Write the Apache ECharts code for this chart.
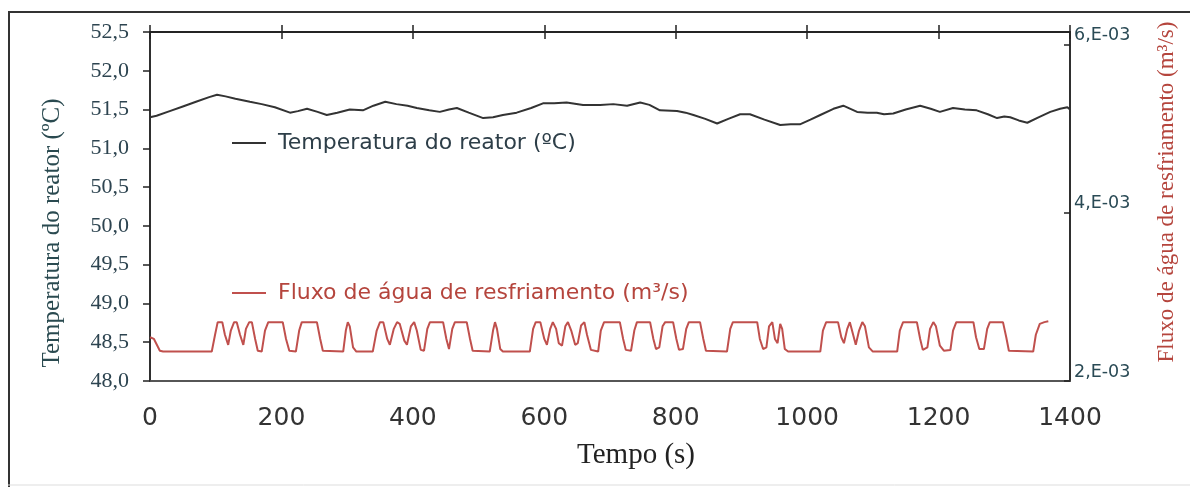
<!DOCTYPE html>
<html>
<head>
<meta charset="utf-8">
<script src="https://cdn.jsdelivr.net/npm/echarts@6/dist/echarts.min.js"></script>
<style>
  html, body { margin: 0; padding: 0; background: #fff; }
  #chart { width: 1190px; height: 487px; }
</style>
</head>
<body>
<div id="chart"></div>
<script>
// Temperatura do reator (ºC) vs tempo (s)
const tempTime = [0, 10, 30, 50, 70, 90, 102, 115, 130, 152, 170, 190, 213, 225, 239, 255, 269, 285, 304, 324,
    340, 358, 375, 392, 406, 425, 441, 455, 467, 485, 507, 522, 537, 558, 580, 598, 615, 634, 659, 685,
    705, 726, 746, 760, 776, 802, 815, 827, 845, 863, 880, 898, 913, 935, 959, 975, 989, 1005, 1020, 1040,
    1055, 1076, 1092, 1106, 1117, 1131, 1150, 1172, 1188, 1202, 1222, 1240, 1258, 1275, 1289, 1300, 1309, 1322, 1335, 1352,
    1370, 1385, 1396, 1400];
const tempValue = [51.40, 51.42, 51.48, 51.54, 51.60, 51.66, 51.69, 51.67, 51.64, 51.60, 51.57, 51.53, 51.46, 51.48, 51.51, 51.47, 51.43, 51.46, 51.50, 51.49,
    51.55, 51.60, 51.57, 51.55, 51.52, 51.49, 51.47, 51.50, 51.52, 51.46, 51.39, 51.40, 51.43, 51.46, 51.52, 51.58, 51.58, 51.59, 51.56, 51.56,
    51.57, 51.55, 51.59, 51.56, 51.49, 51.48, 51.46, 51.43, 51.38, 51.32, 51.38, 51.44, 51.44, 51.37, 51.30, 51.31, 51.31, 51.37, 51.43, 51.51,
    51.55, 51.47, 51.46, 51.46, 51.44, 51.45, 51.50, 51.55, 51.51, 51.47, 51.52, 51.50, 51.49, 51.44, 51.39, 51.41, 51.40, 51.36, 51.33, 51.40,
    51.47, 51.51, 51.53, 51.50];

// Fluxo de água de resfriamento, em unidades de 1E-03 m³/s
const flowTime = [0, 6, 15, 20, 94, 99, 103, 110, 114, 119, 123, 128, 132, 137, 142, 146, 151, 155, 160, 164,
    170, 175, 180, 202, 207, 212, 222, 227, 231, 254, 259, 263, 294, 298, 301, 304, 309, 314, 339, 345,
    350, 355, 361, 365, 371, 376, 380, 387, 391, 397, 402, 406, 412, 417, 422, 426, 446, 451, 455, 460,
    464, 482, 487, 491, 517, 522, 525, 528, 533, 537, 578, 583, 587, 594, 600, 604, 609, 613, 618, 622,
    627, 632, 636, 641, 647, 651, 656, 661, 665, 671, 682, 686, 691, 715, 720, 724, 732, 737, 741, 761,
    766, 770, 775, 780, 784, 796, 801, 805, 811, 816, 820, 837, 842, 846, 878, 883, 887, 924, 928, 933,
    938, 942, 947, 951, 955, 959, 962, 966, 971, 1020, 1024, 1029, 1047, 1052, 1056, 1061, 1065, 1070, 1074, 1079,
    1084, 1088, 1094, 1100, 1137, 1141, 1146, 1167, 1172, 1176, 1183, 1187, 1192, 1196, 1202, 1208, 1218, 1222, 1227, 1253,
    1257, 1262, 1269, 1274, 1278, 1298, 1303, 1307, 1344, 1348, 1354, 1361, 1367];
const flowValue = [2.52, 2.50, 2.36, 2.35, 2.35, 2.55, 2.70, 2.70, 2.55, 2.43, 2.60, 2.70, 2.70, 2.55, 2.43, 2.62, 2.70, 2.70, 2.50, 2.36,
    2.35, 2.60, 2.70, 2.70, 2.50, 2.36, 2.35, 2.60, 2.70, 2.70, 2.50, 2.36, 2.35, 2.60, 2.70, 2.65, 2.40, 2.35, 2.35, 2.60,
    2.70, 2.70, 2.50, 2.43, 2.62, 2.70, 2.68, 2.48, 2.43, 2.65, 2.70, 2.60, 2.37, 2.36, 2.62, 2.70, 2.70, 2.50, 2.38, 2.62,
    2.70, 2.70, 2.50, 2.36, 2.35, 2.60, 2.70, 2.62, 2.38, 2.35, 2.35, 2.62, 2.70, 2.70, 2.50, 2.43, 2.62, 2.70, 2.62, 2.45,
    2.42, 2.65, 2.70, 2.60, 2.43, 2.45, 2.66, 2.70, 2.55, 2.37, 2.35, 2.60, 2.70, 2.70, 2.50, 2.37, 2.36, 2.60, 2.70, 2.70,
    2.50, 2.38, 2.40, 2.65, 2.70, 2.70, 2.50, 2.37, 2.38, 2.62, 2.70, 2.70, 2.50, 2.36, 2.35, 2.62, 2.70, 2.70, 2.50, 2.38,
    2.40, 2.65, 2.70, 2.50, 2.45, 2.68, 2.62, 2.38, 2.35, 2.35, 2.60, 2.70, 2.70, 2.52, 2.45, 2.62, 2.70, 2.55, 2.43, 2.60,
    2.70, 2.65, 2.40, 2.35, 2.35, 2.60, 2.70, 2.70, 2.50, 2.37, 2.40, 2.62, 2.70, 2.65, 2.42, 2.36, 2.37, 2.60, 2.70, 2.70,
    2.52, 2.38, 2.38, 2.62, 2.70, 2.70, 2.52, 2.36, 2.35, 2.55, 2.68, 2.70, 2.71];

const xTicks = [0, 200, 400, 600, 800, 1000, 1200, 1400];

const serif = '"Liberation Serif", "DejaVu Serif", serif';
const sans = '"DejaVu Sans", "Liberation Sans", sans-serif';

const chart = echarts.init(document.getElementById('chart'));

const topAxisBase = {
    type: 'value',
    position: 'top',
    min: xTicks[0],
    max: xTicks[xTicks.length - 1],
    interval: 200,
    axisLine: { show: true, onZero: false, lineStyle: { color: '#222', width: 1.5 } },
    axisLabel: { show: false },
    splitLine: { show: false }
};

chart.setOption({
    animation: false,
    backgroundColor: '#fff',
    // borda da área do gráfico (garante a linha do eixo direito)
    grid: { left: 150, right: 120, top: 32, bottom: 106, show: true, borderColor: '#222', borderWidth: 1.5, backgroundColor: 'transparent' },
    legend: [
        {
            data: ['Temperatura do reator (ºC)'],
            left: 227, top: 127,
            icon: 'rect', itemWidth: 34, itemHeight: 2,
            textStyle: { fontFamily: sans, fontSize: 22, color: '#2d3e48', padding: [0, 0, 0, 7] }
        },
        {
            data: ['Fluxo de água de resfriamento (m³/s)'],
            left: 227, top: 277,
            icon: 'rect', itemWidth: 34, itemHeight: 2,
            textStyle: { fontFamily: sans, fontSize: 22, color: '#b5453d', padding: [0, 0, 0, 7] }
        }
    ],
    xAxis: [
        {
            type: 'value',
            position: 'bottom',
            min: xTicks[0],
            max: xTicks[xTicks.length - 1],
            interval: 200,
            axisLine: { show: true, onZero: false, lineStyle: { color: '#555', width: 1.5 } },
            axisTick: { show: false },
            splitLine: { show: false },
            axisLabel: {
                margin: 25, fontFamily: sans, fontSize: 25, color: '#333',
                formatter: v => String(v)
            }
        },
        Object.assign({}, topAxisBase, { axisTick: { show: true, inside: true, length: 7, lineStyle: { color: '#222', width: 1.5 } } }),
        Object.assign({}, topAxisBase, { axisTick: { show: true, inside: false, length: 7, lineStyle: { color: '#222', width: 1.5 } } })
    ],
    yAxis: [
        {
            type: 'value',
            position: 'left',
            min: 48, max: 52.5, interval: 0.5,
            axisLine: { show: true, onZero: false, lineStyle: { color: '#222', width: 1.5 } },
            axisTick: { show: true, length: 7, lineStyle: { color: '#222', width: 1.5 } },
            splitLine: { show: false },
            axisLabel: {
                margin: 21, fontFamily: serif, fontSize: 22, color: '#2d4450',
                formatter: v => v.toFixed(1).replace('.', ',')
            }
        },
        {
            type: 'value',
            position: 'right',
            min: 2, max: 6.15, interval: 2,
            axisLine: { show: true, onZero: false, lineStyle: { color: '#222', width: 1.5 } },
            axisTick: { show: true, inside: true, length: 6, lineStyle: { color: '#222', width: 1.5 } },
            splitLine: { show: false },
            axisLabel: {
                margin: 4, fontFamily: sans, fontSize: 17.5, color: '#2a4a55',
                verticalAlign: 'bottom', padding: [0, 0, 0, 0],
                formatter: v => v + ',E-03'
            }
        }
    ],
    graphic: [
        { type: 'line', shape: { x1: 9, y1: 12, x2: 9, y2: 487 }, style: { stroke: '#333', lineWidth: 2 } },
        { type: 'line', shape: { x1: 8, y1: 12, x2: 1190, y2: 12 }, style: { stroke: '#333', lineWidth: 2 } },
        { type: 'line', shape: { x1: 8, y1: 485, x2: 1190, y2: 485 }, style: { stroke: '#ddd', lineWidth: 1 } },
        {
            type: 'text', x: 636, y: 455,
            style: { text: 'Tempo (s)', fontFamily: serif, fontSize: 29, fill: '#222', align: 'center', verticalAlign: 'middle' }
        },
        {
            type: 'text', x: 52, y: 233, rotation: Math.PI / 2,
            style: { text: 'Temperatura do reator (ºC)', fontFamily: serif, fontSize: 25, fill: '#2a4a50', align: 'center', verticalAlign: 'middle' }
        },
        {
            type: 'text', x: 1167, y: 192, rotation: Math.PI / 2,
            style: { text: 'Fluxo de água de resfriamento (m³/s)', fontFamily: serif, fontSize: 23, fill: '#b5453d', align: 'center', verticalAlign: 'middle' }
        }
    ],
    series: [
        {
            name: 'Temperatura do reator (ºC)',
            type: 'line',
            xAxisIndex: 0, yAxisIndex: 0,
            showSymbol: false,
            lineStyle: { color: '#333', width: 2 },
            itemStyle: { color: '#333' },
            data: tempTime.map((t, i) => [t, tempValue[i]])
        },
        {
            name: 'Fluxo de água de resfriamento (m³/s)',
            type: 'line',
            xAxisIndex: 0, yAxisIndex: 1,
            showSymbol: false,
            lineStyle: { color: '#c0504d', width: 2 },
            itemStyle: { color: '#c0504d' },
            data: flowTime.map((t, i) => [t, flowValue[i]])
        }
    ]
});
</script>
</body>
</html>
